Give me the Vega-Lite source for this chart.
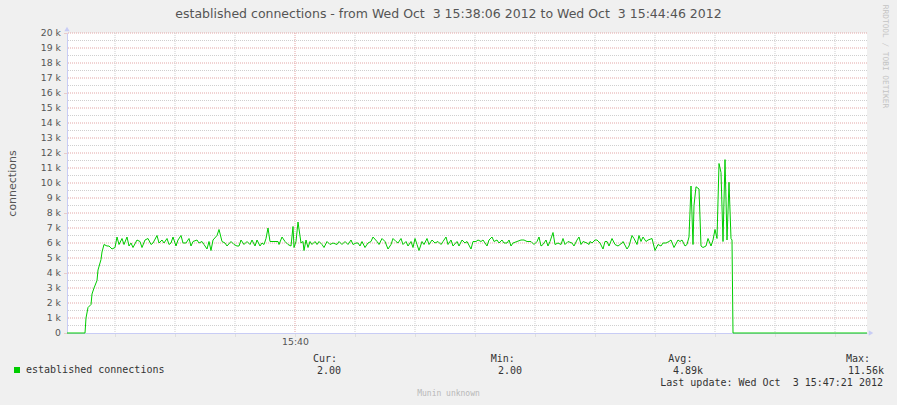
{
  "$schema": "https://vega.github.io/schema/vega-lite/v6.json",
  "autosize": {"type": "none"},
  "width": 800,
  "height": 300,
  "padding": {"left": 67, "top": 33, "right": 30, "bottom": 72},
  "background": "#f0f0f0",
  "config": {
    "view": {"stroke": null, "fill": "#ffffff"},
    "axis": {"labelFont": "DejaVu Sans", "titleFont": "DejaVu Sans", "labelColor": "#555555", "titleColor": "#555555"}
  },
  "datasets": {
    "conn": [
      {"t": "2012-10-03T15:38:06", "v": 0},
      {"t": "2012-10-03T15:38:15", "v": 0},
      {"t": "2012-10-03T15:38:15.500", "v": 1000},
      {"t": "2012-10-03T15:38:16.500", "v": 1700},
      {"t": "2012-10-03T15:38:18", "v": 1900},
      {"t": "2012-10-03T15:38:18.500", "v": 2600},
      {"t": "2012-10-03T15:38:19.500", "v": 3000},
      {"t": "2012-10-03T15:38:21", "v": 3500},
      {"t": "2012-10-03T15:38:21.500", "v": 4200},
      {"t": "2012-10-03T15:38:23", "v": 4900},
      {"t": "2012-10-03T15:38:23.500", "v": 5400},
      {"t": "2012-10-03T15:38:24.500", "v": 5900},
      {"t": "2012-10-03T15:38:26", "v": 5800},
      {"t": "2012-10-03T15:38:27", "v": 5800},
      {"t": "2012-10-03T15:38:28.500", "v": 5600},
      {"t": "2012-10-03T15:38:30", "v": 5700},
      {"t": "2012-10-03T15:38:31", "v": 6400},
      {"t": "2012-10-03T15:38:32", "v": 5900},
      {"t": "2012-10-03T15:38:33.500", "v": 6300},
      {"t": "2012-10-03T15:38:34.500", "v": 5900},
      {"t": "2012-10-03T15:38:36", "v": 6400},
      {"t": "2012-10-03T15:38:37", "v": 5800},
      {"t": "2012-10-03T15:38:38", "v": 6000},
      {"t": "2012-10-03T15:38:39", "v": 5700},
      {"t": "2012-10-03T15:38:41", "v": 6200},
      {"t": "2012-10-03T15:38:42.500", "v": 6100},
      {"t": "2012-10-03T15:38:43.500", "v": 5700},
      {"t": "2012-10-03T15:38:45", "v": 6200},
      {"t": "2012-10-03T15:38:46.500", "v": 6300},
      {"t": "2012-10-03T15:38:48", "v": 5900},
      {"t": "2012-10-03T15:38:49", "v": 6000},
      {"t": "2012-10-03T15:38:51", "v": 6500},
      {"t": "2012-10-03T15:38:52", "v": 6000},
      {"t": "2012-10-03T15:38:53.500", "v": 6200},
      {"t": "2012-10-03T15:38:54.500", "v": 6000},
      {"t": "2012-10-03T15:38:56", "v": 6300},
      {"t": "2012-10-03T15:38:57", "v": 5900},
      {"t": "2012-10-03T15:38:58", "v": 6000},
      {"t": "2012-10-03T15:38:59", "v": 6400},
      {"t": "2012-10-03T15:39:00.500", "v": 5800},
      {"t": "2012-10-03T15:39:01.500", "v": 6200},
      {"t": "2012-10-03T15:39:03", "v": 6500},
      {"t": "2012-10-03T15:39:04", "v": 6000},
      {"t": "2012-10-03T15:39:05.500", "v": 6000},
      {"t": "2012-10-03T15:39:07", "v": 6300},
      {"t": "2012-10-03T15:39:08", "v": 5800},
      {"t": "2012-10-03T15:39:09", "v": 6100},
      {"t": "2012-10-03T15:39:11", "v": 6200},
      {"t": "2012-10-03T15:39:12", "v": 6000},
      {"t": "2012-10-03T15:39:13.500", "v": 6100},
      {"t": "2012-10-03T15:39:14.500", "v": 5900},
      {"t": "2012-10-03T15:39:16", "v": 5600},
      {"t": "2012-10-03T15:39:17", "v": 6100},
      {"t": "2012-10-03T15:39:18", "v": 5500},
      {"t": "2012-10-03T15:39:19", "v": 6200},
      {"t": "2012-10-03T15:39:21", "v": 6500},
      {"t": "2012-10-03T15:39:22", "v": 6900},
      {"t": "2012-10-03T15:39:23.500", "v": 6100},
      {"t": "2012-10-03T15:39:25", "v": 6000},
      {"t": "2012-10-03T15:39:26", "v": 5800},
      {"t": "2012-10-03T15:39:28", "v": 6100},
      {"t": "2012-10-03T15:39:29.500", "v": 5900},
      {"t": "2012-10-03T15:39:31", "v": 5800},
      {"t": "2012-10-03T15:39:32", "v": 5800},
      {"t": "2012-10-03T15:39:33", "v": 6200},
      {"t": "2012-10-03T15:39:34.500", "v": 5900},
      {"t": "2012-10-03T15:39:36", "v": 6100},
      {"t": "2012-10-03T15:39:37.500", "v": 5900},
      {"t": "2012-10-03T15:39:38.500", "v": 6200},
      {"t": "2012-10-03T15:39:40", "v": 5800},
      {"t": "2012-10-03T15:39:41", "v": 6200},
      {"t": "2012-10-03T15:39:42.500", "v": 5800},
      {"t": "2012-10-03T15:39:43.500", "v": 6000},
      {"t": "2012-10-03T15:39:44.500", "v": 5900},
      {"t": "2012-10-03T15:39:45.500", "v": 6300},
      {"t": "2012-10-03T15:39:46.500", "v": 7000},
      {"t": "2012-10-03T15:39:47.500", "v": 6100},
      {"t": "2012-10-03T15:39:49.500", "v": 6100},
      {"t": "2012-10-03T15:39:51.500", "v": 6100},
      {"t": "2012-10-03T15:39:52", "v": 5900},
      {"t": "2012-10-03T15:39:53.500", "v": 6400},
      {"t": "2012-10-03T15:39:55", "v": 6100},
      {"t": "2012-10-03T15:39:56.500", "v": 5900},
      {"t": "2012-10-03T15:39:58", "v": 5800},
      {"t": "2012-10-03T15:39:59", "v": 7100},
      {"t": "2012-10-03T15:39:59.500", "v": 5700},
      {"t": "2012-10-03T15:40:00.500", "v": 6100},
      {"t": "2012-10-03T15:40:01.500", "v": 7400},
      {"t": "2012-10-03T15:40:03", "v": 6000},
      {"t": "2012-10-03T15:40:04", "v": 6100},
      {"t": "2012-10-03T15:40:04.500", "v": 5500},
      {"t": "2012-10-03T15:40:05.500", "v": 6200},
      {"t": "2012-10-03T15:40:06.500", "v": 5700},
      {"t": "2012-10-03T15:40:07.500", "v": 6100},
      {"t": "2012-10-03T15:40:08.500", "v": 5900},
      {"t": "2012-10-03T15:40:10", "v": 6100},
      {"t": "2012-10-03T15:40:11", "v": 5900},
      {"t": "2012-10-03T15:40:12", "v": 6100},
      {"t": "2012-10-03T15:40:13.500", "v": 5900},
      {"t": "2012-10-03T15:40:14.500", "v": 5700},
      {"t": "2012-10-03T15:40:16", "v": 6100},
      {"t": "2012-10-03T15:40:17.500", "v": 5900},
      {"t": "2012-10-03T15:40:19", "v": 6000},
      {"t": "2012-10-03T15:40:21", "v": 5900},
      {"t": "2012-10-03T15:40:22", "v": 6100},
      {"t": "2012-10-03T15:40:23.500", "v": 5900},
      {"t": "2012-10-03T15:40:25", "v": 6100},
      {"t": "2012-10-03T15:40:26.500", "v": 5900},
      {"t": "2012-10-03T15:40:28", "v": 6200},
      {"t": "2012-10-03T15:40:29", "v": 5900},
      {"t": "2012-10-03T15:40:30.500", "v": 6000},
      {"t": "2012-10-03T15:40:31.500", "v": 6000},
      {"t": "2012-10-03T15:40:32.500", "v": 5800},
      {"t": "2012-10-03T15:40:33.500", "v": 6100},
      {"t": "2012-10-03T15:40:35", "v": 5700},
      {"t": "2012-10-03T15:40:36.500", "v": 6000},
      {"t": "2012-10-03T15:40:38", "v": 6100},
      {"t": "2012-10-03T15:40:39", "v": 6400},
      {"t": "2012-10-03T15:40:41", "v": 6100},
      {"t": "2012-10-03T15:40:42", "v": 5900},
      {"t": "2012-10-03T15:40:43.500", "v": 6300},
      {"t": "2012-10-03T15:40:45", "v": 6100},
      {"t": "2012-10-03T15:40:46.500", "v": 5600},
      {"t": "2012-10-03T15:40:48", "v": 5900},
      {"t": "2012-10-03T15:40:49", "v": 6300},
      {"t": "2012-10-03T15:40:50.500", "v": 6100},
      {"t": "2012-10-03T15:40:51.500", "v": 6000},
      {"t": "2012-10-03T15:40:53", "v": 6300},
      {"t": "2012-10-03T15:40:54", "v": 5900},
      {"t": "2012-10-03T15:40:55.500", "v": 6100},
      {"t": "2012-10-03T15:40:56.500", "v": 5800},
      {"t": "2012-10-03T15:40:58", "v": 6100},
      {"t": "2012-10-03T15:40:59", "v": 5700},
      {"t": "2012-10-03T15:41:00", "v": 6300},
      {"t": "2012-10-03T15:41:01", "v": 5900},
      {"t": "2012-10-03T15:41:02", "v": 5500},
      {"t": "2012-10-03T15:41:03.500", "v": 6100},
      {"t": "2012-10-03T15:41:04.500", "v": 5900},
      {"t": "2012-10-03T15:41:06", "v": 6300},
      {"t": "2012-10-03T15:41:07", "v": 5900},
      {"t": "2012-10-03T15:41:08.500", "v": 6200},
      {"t": "2012-10-03T15:41:10", "v": 6000},
      {"t": "2012-10-03T15:41:11.500", "v": 6100},
      {"t": "2012-10-03T15:41:13", "v": 5900},
      {"t": "2012-10-03T15:41:14", "v": 6100},
      {"t": "2012-10-03T15:41:15.500", "v": 6400},
      {"t": "2012-10-03T15:41:16.500", "v": 5900},
      {"t": "2012-10-03T15:41:18", "v": 6200},
      {"t": "2012-10-03T15:41:19", "v": 5800},
      {"t": "2012-10-03T15:41:21", "v": 6100},
      {"t": "2012-10-03T15:41:22", "v": 5800},
      {"t": "2012-10-03T15:41:23.500", "v": 6200},
      {"t": "2012-10-03T15:41:25", "v": 6000},
      {"t": "2012-10-03T15:41:26", "v": 6100},
      {"t": "2012-10-03T15:41:28", "v": 5600},
      {"t": "2012-10-03T15:41:29", "v": 6100},
      {"t": "2012-10-03T15:41:30.500", "v": 6100},
      {"t": "2012-10-03T15:41:31.500", "v": 6200},
      {"t": "2012-10-03T15:41:33", "v": 6100},
      {"t": "2012-10-03T15:41:34", "v": 6200},
      {"t": "2012-10-03T15:41:36", "v": 5800},
      {"t": "2012-10-03T15:41:37", "v": 6200},
      {"t": "2012-10-03T15:41:38.500", "v": 6400},
      {"t": "2012-10-03T15:41:39.500", "v": 6100},
      {"t": "2012-10-03T15:41:41", "v": 6200},
      {"t": "2012-10-03T15:41:42", "v": 6000},
      {"t": "2012-10-03T15:41:43.500", "v": 6200},
      {"t": "2012-10-03T15:41:44.500", "v": 6000},
      {"t": "2012-10-03T15:41:46", "v": 6000},
      {"t": "2012-10-03T15:41:47", "v": 6200},
      {"t": "2012-10-03T15:41:48", "v": 5800},
      {"t": "2012-10-03T15:41:49", "v": 6000},
      {"t": "2012-10-03T15:41:51", "v": 6100},
      {"t": "2012-10-03T15:41:53", "v": 6200},
      {"t": "2012-10-03T15:41:54.500", "v": 6200},
      {"t": "2012-10-03T15:41:56", "v": 6100},
      {"t": "2012-10-03T15:41:58", "v": 6100},
      {"t": "2012-10-03T15:41:59.500", "v": 5900},
      {"t": "2012-10-03T15:42:01", "v": 6100},
      {"t": "2012-10-03T15:42:02", "v": 6400},
      {"t": "2012-10-03T15:42:03", "v": 5800},
      {"t": "2012-10-03T15:42:04", "v": 5900},
      {"t": "2012-10-03T15:42:05.500", "v": 6200},
      {"t": "2012-10-03T15:42:06.500", "v": 5800},
      {"t": "2012-10-03T15:42:07.500", "v": 6100},
      {"t": "2012-10-03T15:42:09", "v": 6700},
      {"t": "2012-10-03T15:42:10", "v": 5900},
      {"t": "2012-10-03T15:42:11.500", "v": 6000},
      {"t": "2012-10-03T15:42:13", "v": 5900},
      {"t": "2012-10-03T15:42:14", "v": 6300},
      {"t": "2012-10-03T15:42:15", "v": 5900},
      {"t": "2012-10-03T15:42:16.500", "v": 6100},
      {"t": "2012-10-03T15:42:18.500", "v": 6000},
      {"t": "2012-10-03T15:42:19.500", "v": 5800},
      {"t": "2012-10-03T15:42:21", "v": 6200},
      {"t": "2012-10-03T15:42:22", "v": 6400},
      {"t": "2012-10-03T15:42:23", "v": 5900},
      {"t": "2012-10-03T15:42:24", "v": 6100},
      {"t": "2012-10-03T15:42:26", "v": 6000},
      {"t": "2012-10-03T15:42:27", "v": 5900},
      {"t": "2012-10-03T15:42:27.500", "v": 6100},
      {"t": "2012-10-03T15:42:28.500", "v": 6000},
      {"t": "2012-10-03T15:42:30", "v": 6200},
      {"t": "2012-10-03T15:42:31", "v": 6200},
      {"t": "2012-10-03T15:42:32.500", "v": 6000},
      {"t": "2012-10-03T15:42:34", "v": 5600},
      {"t": "2012-10-03T15:42:35", "v": 6100},
      {"t": "2012-10-03T15:42:36", "v": 6100},
      {"t": "2012-10-03T15:42:37", "v": 5800},
      {"t": "2012-10-03T15:42:38.500", "v": 6300},
      {"t": "2012-10-03T15:42:40", "v": 5900},
      {"t": "2012-10-03T15:42:41.500", "v": 5800},
      {"t": "2012-10-03T15:42:43.500", "v": 6000},
      {"t": "2012-10-03T15:42:44", "v": 6100},
      {"t": "2012-10-03T15:42:46", "v": 5600},
      {"t": "2012-10-03T15:42:47", "v": 5800},
      {"t": "2012-10-03T15:42:48.500", "v": 6500},
      {"t": "2012-10-03T15:42:49.500", "v": 6300},
      {"t": "2012-10-03T15:42:51", "v": 5900},
      {"t": "2012-10-03T15:42:52", "v": 6500},
      {"t": "2012-10-03T15:42:53", "v": 6100},
      {"t": "2012-10-03T15:42:54", "v": 6400},
      {"t": "2012-10-03T15:42:55.500", "v": 6100},
      {"t": "2012-10-03T15:42:56.500", "v": 6200},
      {"t": "2012-10-03T15:42:58.500", "v": 6300},
      {"t": "2012-10-03T15:43:00", "v": 5500},
      {"t": "2012-10-03T15:43:01.500", "v": 5900},
      {"t": "2012-10-03T15:43:03", "v": 5800},
      {"t": "2012-10-03T15:43:04", "v": 6000},
      {"t": "2012-10-03T15:43:05.500", "v": 6000},
      {"t": "2012-10-03T15:43:07", "v": 6100},
      {"t": "2012-10-03T15:43:08", "v": 6200},
      {"t": "2012-10-03T15:43:09.500", "v": 5700},
      {"t": "2012-10-03T15:43:11.500", "v": 6200},
      {"t": "2012-10-03T15:43:12.500", "v": 6100},
      {"t": "2012-10-03T15:43:13.500", "v": 6200},
      {"t": "2012-10-03T15:43:15", "v": 5800},
      {"t": "2012-10-03T15:43:16", "v": 5900},
      {"t": "2012-10-03T15:43:17", "v": 6400},
      {"t": "2012-10-03T15:43:18", "v": 9800},
      {"t": "2012-10-03T15:43:19", "v": 5900},
      {"t": "2012-10-03T15:43:19.500", "v": 8500},
      {"t": "2012-10-03T15:43:20.500", "v": 9750},
      {"t": "2012-10-03T15:43:21.500", "v": 9650},
      {"t": "2012-10-03T15:43:22", "v": 9600},
      {"t": "2012-10-03T15:43:23", "v": 5800},
      {"t": "2012-10-03T15:43:24", "v": 5700},
      {"t": "2012-10-03T15:43:25.500", "v": 5800},
      {"t": "2012-10-03T15:43:26.500", "v": 6300},
      {"t": "2012-10-03T15:43:28", "v": 5800},
      {"t": "2012-10-03T15:43:29", "v": 6200},
      {"t": "2012-10-03T15:43:30", "v": 6900},
      {"t": "2012-10-03T15:43:31", "v": 6300},
      {"t": "2012-10-03T15:43:32", "v": 11300},
      {"t": "2012-10-03T15:43:33", "v": 10700},
      {"t": "2012-10-03T15:43:34", "v": 6100},
      {"t": "2012-10-03T15:43:35", "v": 11560},
      {"t": "2012-10-03T15:43:36", "v": 6200},
      {"t": "2012-10-03T15:43:37", "v": 10050},
      {"t": "2012-10-03T15:43:38", "v": 6300},
      {"t": "2012-10-03T15:43:38.500", "v": 6200},
      {"t": "2012-10-03T15:43:39", "v": 0},
      {"t": "2012-10-03T15:44:46", "v": 0}
    ],
    "hgrid": [
      {"v": 500, "kind": "minor"}, {"v": 1000, "kind": "major"}, {"v": 1500, "kind": "minor"}, {"v": 2000, "kind": "major"},
      {"v": 2500, "kind": "minor"}, {"v": 3000, "kind": "major"}, {"v": 3500, "kind": "minor"}, {"v": 4000, "kind": "major"},
      {"v": 4500, "kind": "minor"}, {"v": 5000, "kind": "major"}, {"v": 5500, "kind": "minor"}, {"v": 6000, "kind": "major"},
      {"v": 6500, "kind": "minor"}, {"v": 7000, "kind": "major"}, {"v": 7500, "kind": "minor"}, {"v": 8000, "kind": "major"},
      {"v": 8500, "kind": "minor"}, {"v": 9000, "kind": "major"}, {"v": 9500, "kind": "minor"}, {"v": 10000, "kind": "major"},
      {"v": 10500, "kind": "minor"}, {"v": 11000, "kind": "major"}, {"v": 11500, "kind": "minor"}, {"v": 12000, "kind": "major"},
      {"v": 12500, "kind": "minor"}, {"v": 13000, "kind": "major"}, {"v": 13500, "kind": "minor"}, {"v": 14000, "kind": "major"},
      {"v": 14500, "kind": "minor"}, {"v": 15000, "kind": "major"}, {"v": 15500, "kind": "minor"}, {"v": 16000, "kind": "major"},
      {"v": 16500, "kind": "minor"}, {"v": 17000, "kind": "major"}, {"v": 17500, "kind": "minor"}, {"v": 18000, "kind": "major"},
      {"v": 18500, "kind": "minor"}, {"v": 19000, "kind": "major"}, {"v": 19500, "kind": "minor"}, {"v": 20000, "kind": "major"}
    ],
    "ylabels": [
      {"v": 0, "label": "0"}, {"v": 1000, "label": "1 k"}, {"v": 2000, "label": "2 k"}, {"v": 3000, "label": "3 k"},
      {"v": 4000, "label": "4 k"}, {"v": 5000, "label": "5 k"}, {"v": 6000, "label": "6 k"}, {"v": 7000, "label": "7 k"},
      {"v": 8000, "label": "8 k"}, {"v": 9000, "label": "9 k"}, {"v": 10000, "label": "10 k"}, {"v": 11000, "label": "11 k"},
      {"v": 12000, "label": "12 k"}, {"v": 13000, "label": "13 k"}, {"v": 14000, "label": "14 k"}, {"v": 15000, "label": "15 k"},
      {"v": 16000, "label": "16 k"}, {"v": 17000, "label": "17 k"}, {"v": 18000, "label": "18 k"}, {"v": 19000, "label": "19 k"},
      {"v": 20000, "label": "20 k"}
    ],
    "vgrid": [
      {"t": "2012-10-03T15:38:30", "kind": "minor"},
      {"t": "2012-10-03T15:39:00", "kind": "minor"},
      {"t": "2012-10-03T15:39:30", "kind": "minor"},
      {"t": "2012-10-03T15:40:00", "kind": "major"},
      {"t": "2012-10-03T15:40:30", "kind": "minor"},
      {"t": "2012-10-03T15:41:00", "kind": "minor"},
      {"t": "2012-10-03T15:41:30", "kind": "minor"},
      {"t": "2012-10-03T15:42:00", "kind": "minor"},
      {"t": "2012-10-03T15:42:30", "kind": "minor"},
      {"t": "2012-10-03T15:43:00", "kind": "minor"},
      {"t": "2012-10-03T15:43:30", "kind": "minor"},
      {"t": "2012-10-03T15:44:00", "kind": "minor"},
      {"t": "2012-10-03T15:44:30", "kind": "minor"}
    ],
    "arrows": [
      {"t": "2012-10-03T15:38:06", "v": 20270, "dir": "up"},
      {"t": "2012-10-03T15:44:48", "v": 0, "dir": "right"}
    ],
    "stats": [
      {"col": "Cur", "head": "Cur:", "val": "2.00"},
      {"col": "Min", "head": "Min:", "val": "2.00"},
      {"col": "Avg", "head": "Avg:", "val": "4.89k"},
      {"col": "Max", "head": "Max:", "val": "11.56k"}
    ]
  },
  "layer": [
    {
      "layer": [
        {
          "data": {"name": "hgrid"},
          "mark": {"type": "rule", "strokeWidth": 1, "strokeDash": [1, 1]},
          "encoding": {
            "y": {"field": "v", "type": "quantitative"},
            "color": {"field": "kind", "type": "nominal", "scale": {"domain": ["major", "minor"], "range": ["#e3a6a6", "#cfcfcf"]}, "legend": null}
          }
        },
        {
          "data": {"name": "vgrid"},
          "mark": {"type": "rule", "strokeWidth": 1, "strokeDash": [1, 1]},
          "encoding": {
            "x": {"field": "t", "type": "temporal"},
            "color": {"field": "kind", "type": "nominal", "scale": {"domain": ["major", "minor"], "range": ["#e3a6a6", "#cfcfcf"]}, "legend": null}
          }
        },
        {
          "data": {"name": "conn"},
          "mark": {"type": "line", "color": "#00cc00", "strokeWidth": 1},
          "encoding": {
            "x": {
              "field": "t",
              "type": "temporal",
              "scale": {
                "domain": [
                  {"year": 2012, "month": 10, "date": 3, "hours": 15, "minutes": 38, "seconds": 6},
                  {"year": 2012, "month": 10, "date": 3, "hours": 15, "minutes": 44, "seconds": 46}
                ],
                "nice": false
              },
              "axis": {
                "title": null,
                "grid": false,
                "values": [
                  {"year": 2012, "month": 10, "date": 3, "hours": 15, "minutes": 38, "seconds": 30},
                  {"year": 2012, "month": 10, "date": 3, "hours": 15, "minutes": 39, "seconds": 0},
                  {"year": 2012, "month": 10, "date": 3, "hours": 15, "minutes": 39, "seconds": 30},
                  {"year": 2012, "month": 10, "date": 3, "hours": 15, "minutes": 40, "seconds": 0},
                  {"year": 2012, "month": 10, "date": 3, "hours": 15, "minutes": 40, "seconds": 30},
                  {"year": 2012, "month": 10, "date": 3, "hours": 15, "minutes": 41, "seconds": 0},
                  {"year": 2012, "month": 10, "date": 3, "hours": 15, "minutes": 41, "seconds": 30},
                  {"year": 2012, "month": 10, "date": 3, "hours": 15, "minutes": 42, "seconds": 0},
                  {"year": 2012, "month": 10, "date": 3, "hours": 15, "minutes": 42, "seconds": 30},
                  {"year": 2012, "month": 10, "date": 3, "hours": 15, "minutes": 43, "seconds": 0},
                  {"year": 2012, "month": 10, "date": 3, "hours": 15, "minutes": 43, "seconds": 30},
                  {"year": 2012, "month": 10, "date": 3, "hours": 15, "minutes": 44, "seconds": 0},
                  {"year": 2012, "month": 10, "date": 3, "hours": 15, "minutes": 44, "seconds": 30}
                ],
                "format": "%H:%M:%S",
                "labelExpr": "datum.label == '15:40:00' ? '15:40' : ''",
                "labelFontSize": 9.3,
                "labelPadding": 1,
                "tickSize": 3,
                "tickColor": "#cfcfcf",
                "tickDash": [1, 1],
                "domainColor": "#c8ccf5"
              }
            },
            "y": {
              "field": "v",
              "type": "quantitative",
              "scale": {"domain": [0, 20000], "nice": false},
              "axis": {
                "title": "connections",
                "titleFontSize": 11,
                "titleFontWeight": "normal",
                "titleX": -55,
                "titleY": 150,
                "titleAlign": "center",
                "titleBaseline": "middle",
                "grid": false,
                "labels": false,
                "values": [0, 1000, 2000, 3000, 4000, 5000, 6000, 7000, 8000, 9000, 10000, 11000, 12000, 13000, 14000, 15000, 16000, 17000, 18000, 19000, 20000],
                "tickSize": 3,
                "tickColor": "#e3a6a6",
                "tickDash": [1, 1],
                "domainColor": "#c8ccf5"
              }
            }
          }
        },
        {
          "data": {"name": "arrows"},
          "mark": {"type": "point", "filled": true, "size": 28, "opacity": 1, "color": "#c8ccf5"},
          "encoding": {
            "x": {"field": "t", "type": "temporal"},
            "y": {"field": "v", "type": "quantitative"},
            "shape": {"field": "dir", "type": "nominal", "scale": {"domain": ["up", "right"], "range": ["triangle-up", "triangle-right"]}, "legend": null}
          }
        }
      ]
    },
    {
      "layer": [
        {
          "data": {"name": "ylabels"},
          "mark": {"type": "text", "align": "right", "baseline": "middle", "font": "DejaVu Sans", "fontSize": 9.3, "color": "#555555"},
          "encoding": {
            "x": {"datum": "ylab", "type": "nominal", "scale": {"type": "point", "domain": ["ylab"], "range": [-6, -6], "padding": 0}, "axis": null},
            "y": {"field": "v", "type": "quantitative", "scale": {"domain": [0, 20000], "range": [300, 0], "nice": false}, "axis": null},
            "text": {"field": "label"}
          }
        },
        {
          "data": {"values": [{"note": "established connections - from Wed Oct \u00a03 15:38:06 2012 to Wed Oct \u00a03 15:44:46 2012"}]},
          "mark": {"type": "text", "align": "center", "baseline": "alphabetic", "font": "DejaVu Sans", "fontSize": 12.5, "color": "#555555"},
          "encoding": {
            "x": {"datum": "title", "type": "nominal", "scale": {"type": "point", "domain": ["title"], "range": [381.5, 381.5], "padding": 0}, "axis": null},
            "y": {"datum": "title", "type": "nominal", "scale": {"type": "point", "domain": ["title"], "range": [-15.3, -15.3], "padding": 0}, "axis": null},
            "text": {"field": "note"}
          }
        },
        {
          "data": {"values": [{"name": "established connections"}]},
          "mark": {"type": "square", "filled": true, "size": 36, "color": "#00cc00", "opacity": 1},
          "encoding": {
            "x": {"datum": "sw", "type": "nominal", "scale": {"type": "point", "domain": ["sw"], "range": [-50, -50], "padding": 0}, "axis": null},
            "y": {"datum": "legend", "type": "nominal", "scale": {"type": "point", "domain": ["legend"], "range": [337, 337], "padding": 0}, "axis": null}
          }
        },
        {
          "data": {"values": [{"name": "established connections"}]},
          "mark": {"type": "text", "align": "left", "baseline": "middle", "font": "DejaVu Sans Mono", "fontSize": 10, "color": "#333333"},
          "encoding": {
            "x": {"datum": "label", "type": "nominal", "scale": {"type": "point", "domain": ["label"], "range": [-41, -41], "padding": 0}, "axis": null},
            "y": {"datum": "legend", "type": "nominal", "scale": {"type": "point", "domain": ["legend"], "range": [337, 337], "padding": 0}, "axis": null},
            "text": {"field": "name"}
          }
        },
        {
          "data": {"name": "stats"},
          "mark": {"type": "text", "align": "left", "baseline": "middle", "font": "DejaVu Sans Mono", "fontSize": 10, "color": "#333333"},
          "encoding": {
            "x": {"field": "col", "type": "nominal", "scale": {"type": "point", "domain": ["Cur", "Min", "Avg", "Max"], "range": [246, 779], "padding": 0}, "axis": null},
            "y": {"datum": "hdr", "type": "nominal", "scale": {"type": "point", "domain": ["hdr"], "range": [326, 326], "padding": 0}, "axis": null},
            "text": {"field": "head"}
          }
        },
        {
          "data": {"name": "stats"},
          "mark": {"type": "text", "align": "right", "baseline": "middle", "font": "DejaVu Sans Mono", "fontSize": 10, "color": "#333333"},
          "encoding": {
            "x": {"field": "col", "type": "nominal", "scale": {"type": "point", "domain": ["Cur", "Min", "Avg", "Max"], "range": [274, 817], "padding": 0}, "axis": null},
            "y": {"datum": "legend", "type": "nominal", "scale": {"type": "point", "domain": ["legend"], "range": [338, 338], "padding": 0}, "axis": null},
            "text": {"field": "val"}
          }
        },
        {
          "data": {"values": [{"note": "Last update: Wed Oct \u00a03 15:47:21 2012"}]},
          "mark": {"type": "text", "align": "right", "baseline": "middle", "font": "DejaVu Sans Mono", "fontSize": 10, "color": "#333333"},
          "encoding": {
            "x": {"datum": "update", "type": "nominal", "scale": {"type": "point", "domain": ["update"], "range": [816, 816], "padding": 0}, "axis": null},
            "y": {"datum": "update", "type": "nominal", "scale": {"type": "point", "domain": ["update"], "range": [350, 350], "padding": 0}, "axis": null},
            "text": {"field": "note"}
          }
        },
        {
          "data": {"values": [{"note": "Munin unknown"}]},
          "mark": {"type": "text", "align": "center", "baseline": "middle", "font": "DejaVu Sans Mono", "fontSize": 8, "color": "#b8b8b8"},
          "encoding": {
            "x": {"datum": "munin", "type": "nominal", "scale": {"type": "point", "domain": ["munin"], "range": [381.5, 381.5], "padding": 0}, "axis": null},
            "y": {"datum": "munin", "type": "nominal", "scale": {"type": "point", "domain": ["munin"], "range": [361, 361], "padding": 0}, "axis": null},
            "text": {"field": "note"}
          }
        },
        {
          "data": {"values": [{"note": "RRDTOOL / TOBI OETIKER"}]},
          "mark": {"type": "text", "align": "center", "baseline": "middle", "angle": 90, "font": "DejaVu Sans Mono", "fontSize": 7.8, "color": "#c4c4c4"},
          "encoding": {
            "x": {"datum": "wm", "type": "nominal", "scale": {"type": "point", "domain": ["wm"], "range": [818, 818], "padding": 0}, "axis": null},
            "y": {"datum": "wm", "type": "nominal", "scale": {"type": "point", "domain": ["wm"], "range": [23.5, 23.5], "padding": 0}, "axis": null},
            "text": {"field": "note"}
          }
        }
      ],
      "resolve": {"scale": {"x": "independent", "y": "independent"}}
    }
  ],
  "resolve": {"scale": {"x": "independent", "y": "independent", "shape": "independent", "color": "independent"}, "axis": {"x": "independent", "y": "independent"}}
}
